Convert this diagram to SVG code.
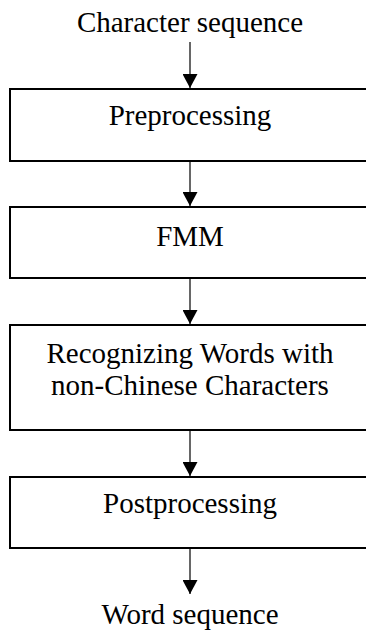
<svg xmlns="http://www.w3.org/2000/svg" width="366" height="635" viewBox="0 0 366 635">
<style>
.box{fill:#fff;stroke:#000;stroke-width:2}
.t{font-family:"Liberation Serif","Times New Roman",serif;font-size:29px;fill:#000;text-anchor:middle}
.c{stroke:#000;stroke-width:1.2;fill:none}
</style>
<defs>
<marker id="ah" viewBox="0 0 14 15" refX="14" refY="7.5" markerWidth="14" markerHeight="15" markerUnits="userSpaceOnUse" orient="auto">
<path d="M0,0 L14,7.5 L0,15 Z" fill="#000"/>
</marker>
</defs>
<rect width="366" height="635" fill="#fff"/>
<g id="input"><text class="t" x="190" y="32">Character sequence</text></g>
<g id="preprocessing"><rect class="box" x="10" y="89" width="362" height="72"/><text class="t" x="190" y="125">Preprocessing</text></g>
<g id="fmm"><rect class="box" x="10" y="207" width="362" height="71"/><text class="t" x="190" y="246">FMM</text></g>
<g id="recognizing"><rect class="box" x="10" y="325" width="362" height="105"/><text class="t" x="190" y="363">Recognizing Words with</text><text class="t" x="190" y="395">non-Chinese Characters</text></g>
<g id="postprocessing"><rect class="box" x="10" y="477" width="362" height="71"/><text class="t" x="190" y="513">Postprocessing</text></g>
<g id="output"><text class="t" x="190" y="624">Word sequence</text></g>
<g id="connectors">
<line class="c" x1="190" y1="42" x2="190" y2="88" marker-end="url(#ah)"/>
<line class="c" x1="190" y1="162" x2="190" y2="206" marker-end="url(#ah)"/>
<line class="c" x1="190" y1="279" x2="190" y2="324" marker-end="url(#ah)"/>
<line class="c" x1="190" y1="431" x2="190" y2="476" marker-end="url(#ah)"/>
<line class="c" x1="190" y1="549" x2="190" y2="594" marker-end="url(#ah)"/>
</g>
</svg>
